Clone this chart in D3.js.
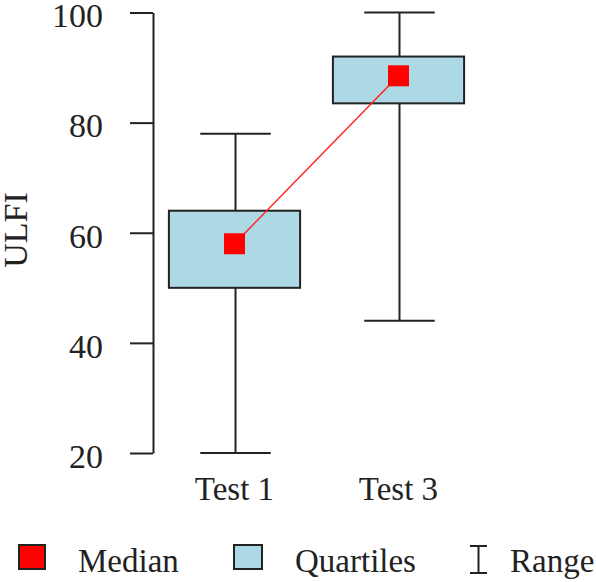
<!DOCTYPE html>
<html>
<head>
<meta charset="utf-8">
<script src="https://d3js.org/d3.v7.min.js"></script>
<style>
  body { margin: 0; background: #ffffff; }
  svg text { font-family: "Liberation Serif", "Times New Roman", serif; fill: #222; }
</style>
</head>
<body>
<div id="chart"></div>
<script>
// data
var categories = ["Test 1", "Test 3"];
var minVals    = [20, 44];
var q1Vals     = [50, 83.5];
var medianVals = [58, 88.5];
var q3Vals     = [64, 92];
var maxVals    = [78, 100];
var yTicks     = [20, 40, 60, 80, 100];
var legendLabels = ["Median", "Quartiles", "Range"];

var W = 596, H = 582;
var svg = d3.select("#chart").append("svg")
    .attr("width", W).attr("height", H);

var x = d3.scaleBand().domain(categories).range([152.5, 480.5]);
var y = d3.scaleLinear().domain([20, 100]).range([453, 12.5]);

var boxW = x.bandwidth() * 0.8;
var capW = x.bandwidth() * 0.43;
var ink = "#222";

// y axis
var yAxis = d3.axisLeft(y).tickValues(yTicks).tickSize(23).tickSizeOuter(0).tickPadding(27);
var gY = svg.append("g").attr("transform", "translate(153,0)").call(yAxis);
gY.select(".domain").attr("stroke", ink).attr("stroke-width", 2);
gY.selectAll(".tick line").attr("stroke", ink).attr("stroke-width", 2);
gY.selectAll(".tick text")
    .attr("font-size", 34)
    .attr("font-family", "Liberation Serif, serif")
    .attr("fill", ink)
    .attr("dy", "0.42em");

svg.append("text")
    .attr("transform", "translate(27,230) rotate(-90)")
    .attr("text-anchor", "middle")
    .attr("font-size", 34)
    .text("ULFI");

// x labels
svg.selectAll(".xlab").data(categories).enter().append("text")
    .attr("class", "xlab")
    .attr("x", function(d) { return x(d) + x.bandwidth() / 2; })
    .attr("y", 500)
    .attr("text-anchor", "middle")
    .attr("font-size", 33)
    .text(function(d) { return d; });

var rows = categories.map(function(c, i) {
  return {cat: c, min: minVals[i], q1: q1Vals[i], med: medianVals[i], q3: q3Vals[i], max: maxVals[i]};
});
function cx(d) { return x(d.cat) + x.bandwidth() / 2; }

var g = svg.append("g");
// whiskers
g.selectAll(".whisker").data(rows).enter().append("line")
    .attr("x1", function(d) { return cx(d) + 1; }).attr("x2", function(d) { return cx(d) + 1; })
    .attr("y1", function(d) { return y(d.min); }).attr("y2", function(d) { return y(d.max); })
    .attr("stroke", ink).attr("stroke-width", 2);
["min", "max"].forEach(function(k) {
  g.selectAll(".cap-" + k).data(rows).enter().append("line")
      .attr("x1", function(d) { return cx(d) + 1 - capW / 2; })
      .attr("x2", function(d) { return cx(d) + 1 + capW / 2; })
      .attr("y1", function(d) { return y(d[k]); }).attr("y2", function(d) { return y(d[k]); })
      .attr("stroke", ink).attr("stroke-width", 2);
});
// boxes
g.selectAll(".box").data(rows).enter().append("rect")
    .attr("x", function(d) { return cx(d) - boxW / 2; })
    .attr("y", function(d) { return y(d.q3); })
    .attr("width", boxW)
    .attr("height", function(d) { return y(d.q1) - y(d.q3); })
    .attr("fill", "#add8e6").attr("stroke", ink).attr("stroke-width", 2);

// median line + squares
var line = d3.line().x(cx).y(function(d) { return y(d.med); });
g.append("path").datum(rows).attr("d", line)
    .attr("fill", "none").attr("stroke", "#f22").attr("stroke-width", 1.5);
var ms = 21;
g.selectAll(".med").data(rows).enter().append("rect")
    .attr("x", function(d) { return cx(d) - ms / 2; })
    .attr("y", function(d) { return y(d.med) - ms / 2; })
    .attr("width", ms).attr("height", ms)
    .attr("fill", "#ff0000");

// legend
var lg = svg.append("g");
lg.append("rect").attr("x", 19).attr("y", 545).attr("width", 26).attr("height", 24)
    .attr("fill", "#ff0000").attr("stroke", ink).attr("stroke-width", 2);
lg.append("rect").attr("x", 234).attr("y", 545).attr("width", 28).attr("height", 24)
    .attr("fill", "#add8e6").attr("stroke", ink).attr("stroke-width", 2);
lg.append("path").attr("d", "M470,546H487M478.5,546V573M470,573H487")
    .attr("fill", "none").attr("stroke", ink).attr("stroke-width", 2);
var legendX = [78, 295, 510];
lg.selectAll(".ltxt").data(legendLabels).enter().append("text")
    .attr("x", function(d, i) { return legendX[i]; })
    .attr("y", 572)
    .attr("font-size", 33)
    .text(function(d) { return d; });
</script>
</body>
</html>
